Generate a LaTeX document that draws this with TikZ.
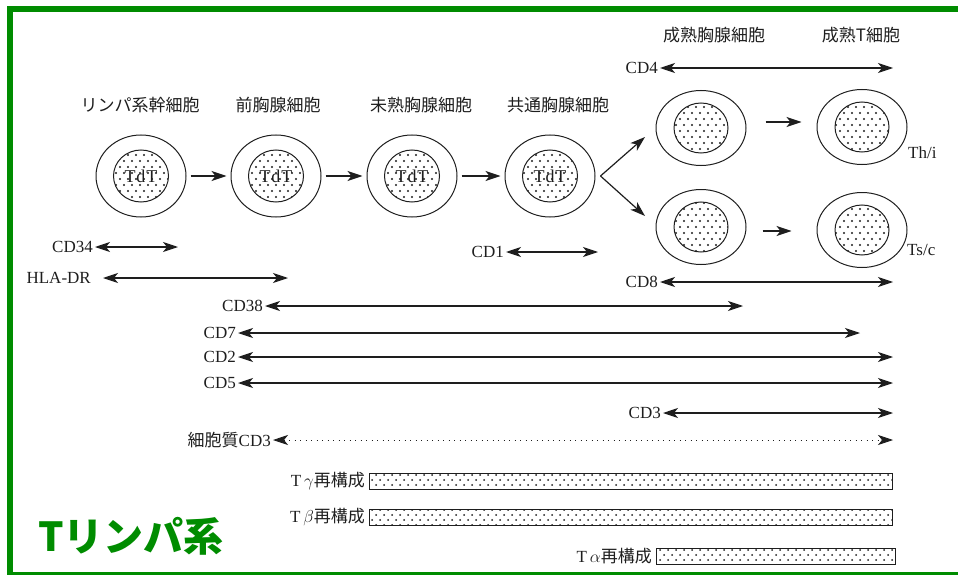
\documentclass[tikz,border=0pt]{standalone}
\usepackage{fontspec}
\setmainfont{Liberation Serif}
\newfontfamily\jp{Noto Sans CJK JP}
\usetikzlibrary{arrows.meta,shapes.geometric,patterns}

% sparse staggered spots for nuclei and rearrangement bars
\pgfdeclarepatternformonly{cellspots}{\pgfqpoint{-2pt}{-2pt}}{\pgfqpoint{10pt}{14pt}}{\pgfqpoint{8pt}{12pt}}{%
  \pgfpathcircle{\pgfqpoint{0pt}{0pt}}{1.1pt}%
  \pgfpathcircle{\pgfqpoint{4pt}{6pt}}{1.1pt}%
  \pgfusepath{fill}}
\pgfdeclarepatternformonly{barspots}{\pgfqpoint{-2pt}{-2pt}}{\pgfqpoint{10pt}{12pt}}{\pgfqpoint{8pt}{10pt}}{%
  \pgfpathcircle{\pgfqpoint{0pt}{0pt}}{1pt}%
  \pgfpathcircle{\pgfqpoint{4pt}{5pt}}{1pt}%
  \pgfusepath{fill}}

\definecolor{framegreen}{RGB}{0,140,0}
\definecolor{ink}{RGB}{30,30,30}

\tikzset{
  every node/.style={font=\fontsize{17}{20}\selectfont, inner sep=0pt, text=ink},
  marktip/.tip={Stealth[length=15pt,width=10pt,inset=4pt]},
  spanarrow/.style={draw=ink, line width=1.1pt, {marktip}-{marktip}},
  flow/.style={draw=ink, line width=1.2pt, -{marktip}},
  cellouter/.style={ellipse, draw=ink, line width=1pt, minimum width=90pt, minimum height=82pt},
  cellmature/.style={ellipse, draw=ink, line width=1pt, minimum width=90pt, minimum height=75pt},
  nucleus/.style={ellipse, draw=ink, line width=1pt, pattern=cellspots, pattern color=ink,
    minimum width=55pt, minimum height=52pt},
  nucleusm/.style={ellipse, draw=ink, line width=1pt, pattern=cellspots, pattern color=ink,
    minimum width=54pt, minimum height=50pt},
  enzyme/.style={font=\fontsize{18}{20}\selectfont},
  jplabel/.style={font=\jp\fontsize{17}{20}\selectfont},
  marklabel/.style={anchor=east},
  rebar/.style={draw=ink, line width=1pt, pattern=barspots, pattern color=ink,
    minimum height=16pt, anchor=north west},
}

\begin{document}
\begin{tikzpicture}[x=1pt,y=-1pt]
\useasboundingbox (0,0) rectangle (958,575);

% frame
\draw[framegreen, line width=6pt, line join=miter] (958,9) -- (10,9) -- (10,574.5) -- (958,574.5);

% early stages
\foreach \i/\x in {1/141,2/276,3/412,4/550}{
  \node[cellouter] (c\i) at (\x,176) {};
  \node[nucleus] (n\i) at (\x,176) {};
  \node[enzyme] (e\i) at (\x,176) {T\kern0.8pt d\kern0.8pt T};
}
\node[jplabel] (l1) at (140,105) {リンパ系幹細胞};
\node[jplabel] (l2) at (278,105) {前胸腺細胞};
\node[jplabel] (l3) at (421,105) {未熟胸腺細胞};
\node[jplabel] (l4) at (558,105) {共通胸腺細胞};

\draw[flow] ([xshift=4pt]c1.east) -- ([xshift=-4pt]c2.west);
\draw[flow] ([xshift=4pt]c2.east) -- ([xshift=-4pt]c3.west);
\draw[flow] ([xshift=4pt]c3.east) -- ([xshift=-4pt]c4.west);

% mature thymocytes and T cells
\node[cellmature] (m1) at (701,128) {};
\node[nucleusm] (mn1) at (701,128) {};
\node[cellmature] (t1) at (862,127) {};
\node[nucleusm] (tn1) at (862,127) {};
\node[cellmature] (m2) at (701,227) {};
\node[nucleusm] (mn2) at (701,227) {};
\node[cellmature] (t2) at (862,230) {};
\node[nucleusm] (tn2) at (862,230) {};

\node[jplabel] (l5) at (714,35) {成熟胸腺細胞};
\node[jplabel] (l6) at (861,35) {成熟T細胞};
\node[anchor=west] (thi) at (908,153) {Th/i};
\node[anchor=west] (tsc) at (907,250) {Ts/c};

\coordinate (d1) at (645,137);
\coordinate (d2) at (645,216);
\draw[flow] ([xshift=5pt]c4.east) -- (d1);
\draw[flow] ([xshift=5pt]c4.east) -- (d2);
\draw[flow] ([xshift=19pt,yshift=6pt]m1.east) -- ([xshift=-15pt,yshift=5pt]t1.west);
\draw[flow] ([xshift=16pt,yshift=-4pt]m2.east) -- ([xshift=-25pt,yshift=-1pt]t2.west);

% surface markers
\node[marklabel] (cd4) at (658,68) {CD4};
\coordinate (cd4e) at (893,68);
\draw[spanarrow] ([xshift=2pt]cd4.east) -- (cd4e);

\node[marklabel] (cd8) at (658,282) {CD8};
\coordinate (cd8e) at (893,282);
\draw[spanarrow] ([xshift=2pt]cd8.east) -- (cd8e);

\node[marklabel] (cd34) at (93,247) {CD34};
\coordinate (cd34e) at (178,247);
\draw[spanarrow] ([xshift=2pt]cd34.east) -- (cd34e);

\node[marklabel] (hla) at (91,278) {HLA-DR};
\coordinate (hlae) at (288,278);
\draw[spanarrow] ([xshift=12pt]hla.east) -- (hlae);

\node[marklabel] (cd1) at (504,252) {CD1};
\coordinate (cd1e) at (598,252);
\draw[spanarrow] ([xshift=2pt]cd1.east) -- (cd1e);

\node[marklabel] (cd38) at (263,306) {CD38};
\coordinate (cd38e) at (743,306);
\draw[spanarrow] ([xshift=2pt]cd38.east) -- (cd38e);

\node[marklabel] (cd7) at (236,333) {CD7};
\coordinate (cd7e) at (860,333);
\draw[spanarrow] ([xshift=2pt]cd7.east) -- (cd7e);

\node[marklabel] (cd2) at (236,357) {CD2};
\coordinate (cd2e) at (893,357);
\draw[spanarrow] ([xshift=2pt]cd2.east) -- (cd2e);

\node[marklabel] (cd5) at (236,383) {CD5};
\coordinate (cd5e) at (893,383);
\draw[spanarrow] ([xshift=2pt]cd5.east) -- (cd5e);

\node[marklabel] (cd3) at (661,413) {CD3};
\coordinate (cd3e) at (893,413);
\draw[spanarrow] ([xshift=2pt]cd3.east) -- (cd3e);

\node[marklabel] (cy3) at (271,440) {{\jp 細胞質}CD3};
\coordinate (cy3e) at (893,440);
\draw[spanarrow, line width=0.8pt, dash pattern=on 1pt off 4.5pt] ([xshift=2pt]cy3.east) -- (cy3e);

% receptor gene rearrangements
\node[rebar, minimum width=523pt] (bg) at (369,473) {};
\node[marklabel] (lg) at ([xshift=-4pt]bg.west) {T\,$\gamma${\jp 再構成}};
\node[rebar, minimum width=523pt] (bb) at (369,509) {};
\node[marklabel] (lb) at ([xshift=-4pt]bb.west) {T\,$\beta${\jp 再構成}};
\node[rebar, minimum width=239pt] (ba) at (656,548) {};
\node[marklabel] (la) at ([xshift=-4pt]ba.west) {T\,$\alpha${\jp 再構成}};

% lineage title
\node[anchor=west, text=framegreen, font=\jp\bfseries\fontsize{40}{44}\selectfont] (title) at (38,536) {Tリンパ系};
\end{tikzpicture}
\end{document}
